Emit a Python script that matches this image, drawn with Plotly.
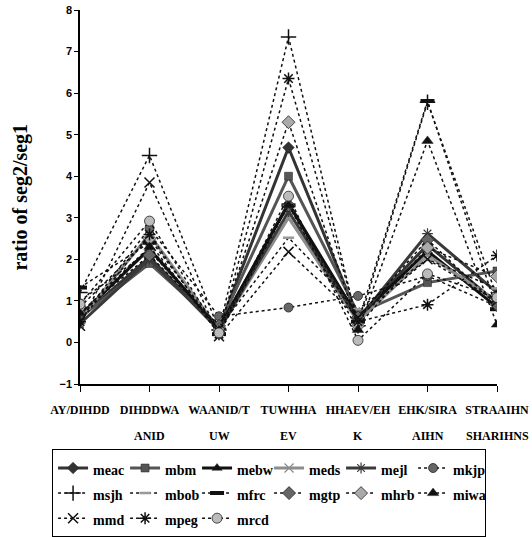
import plotly.graph_objects as go

# ---------------- data ----------------
cat_row1 = ["AY/DIHDD", "DIHDDWA", "WAANID/T", "TUWHHA", "HHAEV/EH", "EHK/SIRA", "STRAAIHN"]
cat_row2 = ["", "ANID", "UW", "EV", "K", "AIHN", "SHARIHNS"]
x_pos = [0, 1, 2, 3, 4, 5, 6]

series_names = ["meac", "mbm", "mebw", "meds", "mejl", "mkjp",
                "msjh", "mbob", "mfrc", "mgtp", "mhrb", "miwa",
                "mmd", "mpeg", "mrcd"]

meac = [0.60, 2.05, 0.35, 4.69, 0.60, 2.35, 0.95]
mbm  = [0.60, 1.90, 0.40, 4.00, 0.70, 1.44, 1.72]
mebw = [0.65, 2.25, 0.35, 3.35, 0.60, 2.20, 0.85]
meds = [0.55, 2.60, 0.30, 3.00, 0.50, 2.10, 1.00]
mejl = [0.45, 2.00, 0.30, 3.15, 0.55, 2.62, 1.20]
mkjp = [0.55, 2.75, 0.63, 0.84, 1.12, 1.60, 0.87]
msjh = [1.20, 4.50, 0.30, 7.35, 0.40, 5.78, 1.10]
mbob = [1.00, 2.20, 0.35, 2.52, 0.80, 2.00, 1.30]
mfrc = [1.32, 2.40, 0.20, 3.30, 0.50, 5.81, 0.80]
mgtp = [0.70, 2.10, 0.40, 3.30, 0.60, 2.47, 0.90]
mhrb = [0.85, 2.50, 0.30, 5.30, 0.40, 2.28, 1.59]
miwa = [0.70, 2.30, 0.30, 3.30, 0.30, 4.85, 0.43]
mmd  = [0.40, 3.85, 0.15, 2.18, 0.60, 2.00, 1.00]
mpeg = [0.50, 2.60, 0.20, 6.35, 0.50, 0.91, 2.09]
mrcd = [0.92, 2.92, 0.23, 3.52, 0.05, 1.65, 1.08]

all_values = [meac, mbm, mebw, meds, mejl, mkjp, msjh, mbob, mfrc,
              mgtp, mhrb, miwa, mmd, mpeg, mrcd]

y_ticks = [-1, 0, 1, 2, 3, 4, 5, 6, 7, 8]

# ---------------- styles ----------------
styles = [
    dict(lc="#333333", lw=3, dash="solid", sym="diamond", mc="#333333", ms=9, mlw=0.5),
    dict(lc="#555555", lw=3, dash="solid", sym="square", mc="#555555", ms=8, mlw=0.5),
    dict(lc="#111111", lw=3, dash="solid", sym="triangle-up", mc="#111111", ms=9, mlw=0.5),
    dict(lc="#8c8c8c", lw=3, dash="solid", sym="x-thin-open", mc="#8c8c8c", ms=9, mlw=1.2),
    dict(lc="#3a3a3a", lw=3, dash="solid", sym="asterisk-open", mc="#3a3a3a", ms=9, mlw=1.2),
    dict(lc="#111111", lw=1.5, dash="dot", sym="circle", mc="#666666", ms=9, mlw=0.8),
    dict(lc="#111111", lw=1.5, dash="dot", sym="cross-thin-open", mc="#111111", ms=11, mlw=1.5),
    dict(lc="#111111", lw=1.5, dash="dot", sym="line-ew-open", mc="#999999", ms=8, mlw=2.5),
    dict(lc="#111111", lw=1.5, dash="dot", sym="line-ew-open", mc="#111111", ms=10, mlw=4),
    dict(lc="#111111", lw=1.5, dash="dot", sym="diamond", mc="#666666", ms=10, mlw=0.8),
    dict(lc="#111111", lw=1.5, dash="dot", sym="diamond", mc="#aaaaaa", ms=10, mlw=0.8),
    dict(lc="#111111", lw=1.5, dash="dot", sym="triangle-up", mc="#111111", ms=10, mlw=0.5),
    dict(lc="#111111", lw=1.5, dash="dot", sym="x-thin-open", mc="#111111", ms=10, mlw=1.5),
    dict(lc="#111111", lw=1.5, dash="dot", sym="asterisk-open", mc="#111111", ms=10, mlw=1.5),
    dict(lc="#111111", lw=1.5, dash="dot", sym="circle", mc="#bbbbbb", ms=10, mlw=0.8),
]

fig = go.Figure()
for name, vals, st in zip(series_names, all_values, styles):
    fig.add_trace(go.Scatter(
        x=x_pos, y=vals, mode="lines+markers",
        name="<span style='font-size:14px'>" + name + "</span>",
        line=dict(color=st["lc"], width=st["lw"], dash=st["dash"]),
        marker=dict(symbol=st["sym"], color=st["mc"], size=st["ms"],
                    line=dict(color=st["mc"] if "open" in st["sym"] else "#222222",
                              width=st["mlw"])),
    ))

serif = "Liberation Serif"
sans = "Liberation Sans"

# second row of the category labels
for xp, t in zip(x_pos, cat_row2):
    if t:
        fig.add_annotation(x=xp, y=-0.139, xref="x", yref="paper", text=t,
                           showarrow=False, yanchor="middle", xanchor="center",
                           font=dict(family=serif, size=12, color="black", weight="bold"))

fig.add_annotation(x=-0.145, y=0.50, xref="paper", yref="paper",
                   text="ratio of seg2/seg1", textangle=-90, showarrow=False,
                   xanchor="center", yanchor="middle",
                   font=dict(family=serif, size=20, color="black", weight="bold"))

fig.update_layout(
    width=532, height=537,
    margin=dict(l=80, r=35, t=10, b=153, autoexpand=False),
    plot_bgcolor="white", paper_bgcolor="white",
    showlegend=True,
    legend=dict(orientation="h", x=-0.067, y=-0.175, xanchor="left", yanchor="top",
                bordercolor="black", borderwidth=1, bgcolor="white",
                font=dict(family=serif, size=17, color="black", weight="bold"),
                entrywidth=27, entrywidthmode="pixels", itemwidth=30,
                tracegroupgap=0),
    xaxis=dict(range=[0, 6], tickvals=x_pos, ticktext=cat_row1, tickangle=0,
               showgrid=False, zeroline=False, showline=True, linecolor="black",
               linewidth=1.5, ticks="outside", ticklen=6, tickcolor="black",
               ticklabelstandoff=8,
               tickfont=dict(family=serif, size=12, color="black", weight="bold")),
    yaxis=dict(range=[-1, 8], tickvals=y_ticks,
               showgrid=False, zeroline=False, showline=True, linecolor="black",
               linewidth=1.5, ticks="outside", ticklen=4, tickcolor="black",
               tickfont=dict(family=sans, size=11, color="black", weight="bold")),
    # overlay axes that only add the inner half of the crossing tick marks
    xaxis2=dict(range=[0, 6], tickvals=x_pos, overlaying="x", anchor="y2",
                showticklabels=False, showgrid=False, zeroline=False,
                showline=False, ticks="inside", ticklen=5, tickcolor="black"),
    yaxis2=dict(range=[-1, 8], tickvals=y_ticks, overlaying="y", anchor="x2",
                showticklabels=False, showgrid=False, zeroline=False,
                showline=False, ticks="inside", ticklen=4, tickcolor="black"),
)

fig.write_html("out.html", config={"displayModeBar": False},
               post_script="document.body.style.margin='0';")
